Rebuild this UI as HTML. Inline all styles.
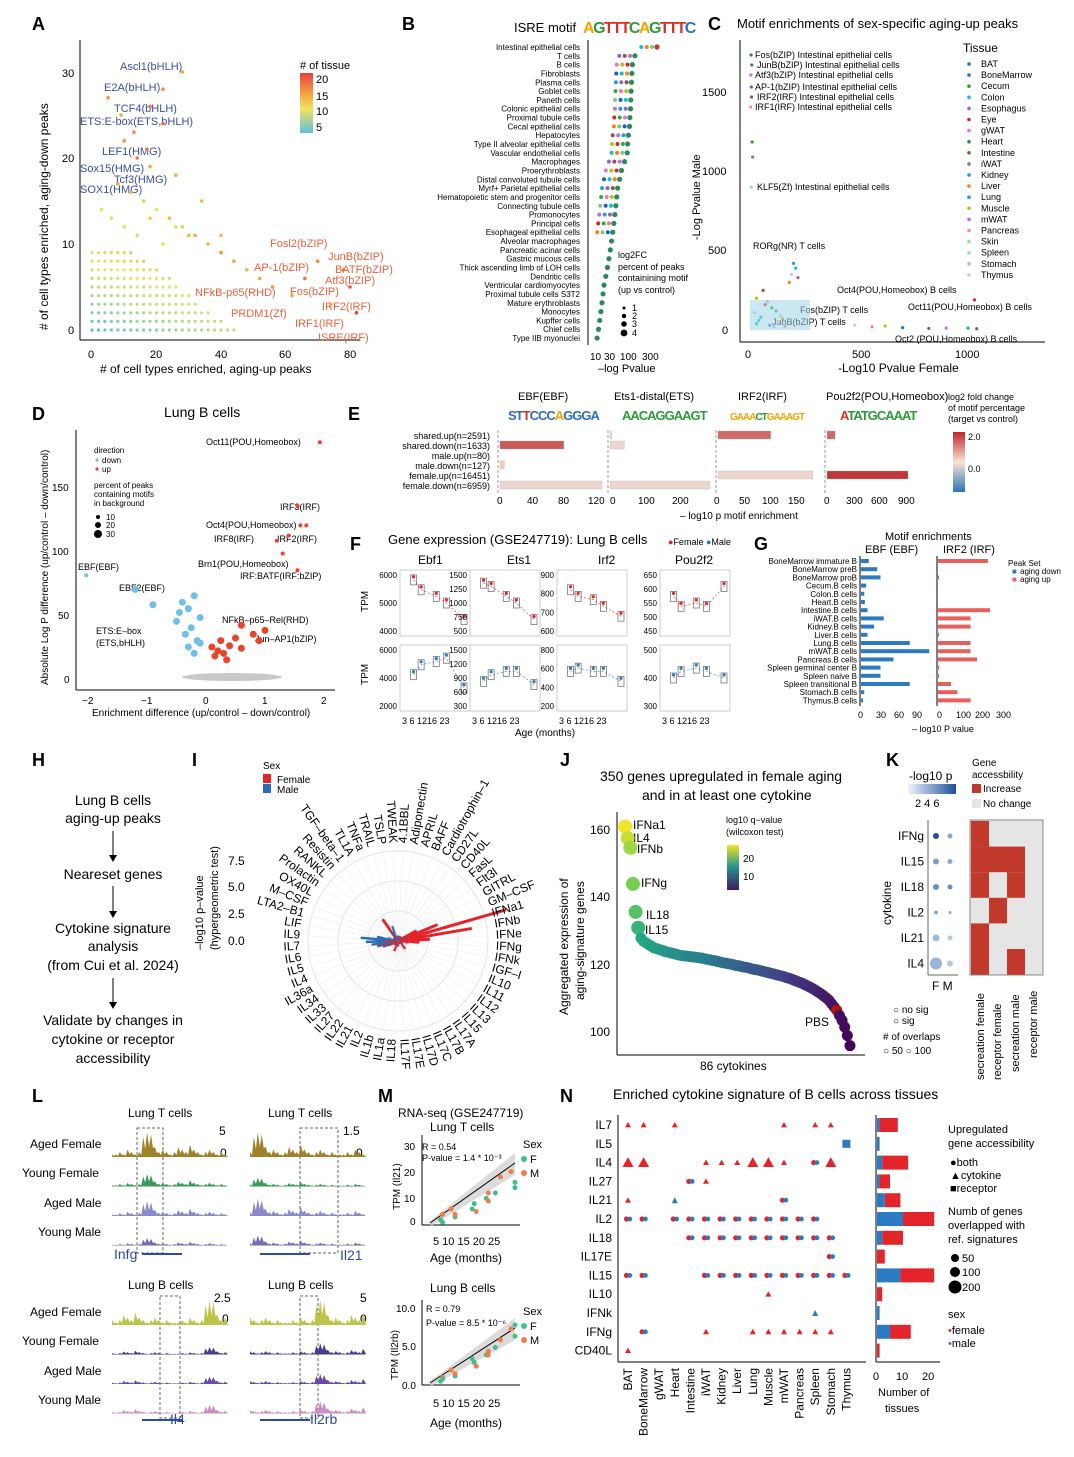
<!DOCTYPE html>
<html><head><meta charset="utf-8"><style>
html,body{margin:0;padding:0;background:#fff}
svg{display:block;font-family:"Liberation Sans",sans-serif}
.pl{font-size:18px;font-weight:bold}
.t9{font-size:9px}.t10{font-size:10px}.t11{font-size:11px}.t12{font-size:12px}.t13{font-size:13px}.t14{font-size:14px}.t8{font-size:8px}
</style></head><body>
<svg id="fig" width="1074" height="1457" viewBox="0 0 1074 1457">
<g>
<text class="pl" x="32" y="30">A</text><text class="pl" x="402" y="30">B</text><text class="pl" x="708" y="30">C</text>
<text class="pl" x="32" y="420">D</text><text class="pl" x="348" y="420">E</text><text class="pl" x="350" y="550">F</text>
<text class="pl" x="754" y="550">G</text><text class="pl" x="32" y="766">H</text><text class="pl" x="192" y="766">I</text>
<text class="pl" x="560" y="766">J</text><text class="pl" x="886" y="766">K</text><text class="pl" x="32" y="1102">L</text>
<text class="pl" x="378" y="1102">M</text><text class="pl" x="560" y="1102">N</text>
</g>
<g id="pA">
<line x1="80" y1="40" x2="80" y2="340" stroke="#000"/><line x1="80" y1="340" x2="360" y2="340" stroke="#000"/>
<text class="t11" x="88" y="358">0</text><text class="t11" x="150" y="358">20</text><text class="t11" x="215" y="358">40</text><text class="t11" x="279" y="358">60</text><text class="t11" x="344" y="358">80</text>
<text class="t11" x="68" y="334">0</text><text class="t11" x="62" y="248">10</text><text class="t11" x="62" y="162">20</text><text class="t11" x="62" y="77">30</text>
<text class="t12" x="100" y="373">    # of cell types enriched, aging-up peaks</text>
<text class="t12" transform="translate(48,330) rotate(-90)"># of cell types enriched, aging-down peaks</text>
<text class="t11" x="300" y="69"># of tissue</text>
<text class="t11" x="316" y="83">20</text><text class="t11" x="316" y="100">15</text><text class="t11" x="316" y="115">10</text><text class="t11" x="316" y="131">5</text>
<g fill="#3a4fa8" class="t11">
<text x="120" y="70">Ascl1(bHLH)</text><text x="104" y="91">E2A(bHLH)</text><text x="114" y="112">TCF4(bHLH)</text><text x="80" y="125">ETS:E-box(ETS,bHLH)</text>
<text x="102" y="155">LEF1(HMG)</text><text x="80" y="172">Sox15(HMG)</text><text x="114" y="183">Tcf3(HMG)</text><text x="80" y="193">SOX1(HMG)</text></g>
<g fill="#e8603c" class="t11">
<text x="270" y="247">Fosl2(bZIP)</text><text x="328" y="260">JunB(bZIP)</text><text x="254" y="271">AP-1(bZIP)</text><text x="335" y="273">BATF(bZIP)</text>
<text x="325" y="284">Atf3(bZIP)</text><text x="195" y="296">NFkB-p65(RHD)</text><text x="290" y="295">Fos(bZIP)</text><text x="322" y="310">IRF2(IRF)</text>
<text x="231" y="317">PRDM1(Zf)</text><text x="295" y="327">IRF1(IRF)</text><text x="318" y="341">ISRE(IRF)</text></g>
</g>
<g id="pB">
<text class="t13" x="514" y="32">ISRE motif</text>
<text x="583" y="33" font-size="16" font-weight="bold" letter-spacing="-1.5"><tspan fill="#f4a300">A</tspan><tspan fill="#2a9a3a">G</tspan><tspan fill="#d73027">TTT</tspan><tspan fill="#2a9a3a">C</tspan><tspan fill="#f4a300">A</tspan><tspan fill="#2a9a3a">G</tspan><tspan fill="#d73027">TTT</tspan><tspan fill="#2b6cc4">C</tspan></text>
<line x1="588" y1="40" x2="588" y2="345" stroke="#000"/>
<text class="t10" x="590" y="360">10</text><text class="t10" x="604" y="360">30</text><text class="t10" x="620" y="360">100</text><text class="t10" x="642" y="360">300</text>
<text class="t11" x="598" y="372">–log Pvalue</text>
<g class="t9"><text x="618" y="258">log2FC</text><text x="618" y="270">percent of peaks</text><text x="618" y="281">containining motif</text><text x="618" y="293">(up vs control)</text>
<text x="632" y="311">1</text><text x="632" y="319">2</text><text x="632" y="327">3</text><text x="632" y="336">4</text></g>
<circle cx="624" cy="308" r="1.5"/><circle cx="624" cy="316" r="2.2"/><circle cx="624" cy="324" r="2.8"/><circle cx="624" cy="333" r="3.4"/>
</g>
<g id="pC">
<text class="t13" x="737" y="28">Motif enrichments of sex-specific aging-up peaks</text>
<line x1="740" y1="40" x2="740" y2="342" stroke="#000"/><line x1="740" y1="342" x2="1045" y2="342" stroke="#000"/>
<text class="t11" x="745" y="358">0</text><text class="t11" x="852" y="358">500</text><text class="t11" x="955" y="358">1000</text>
<text class="t11" x="722" y="334">0</text><text class="t11" x="708" y="254">500</text><text class="t11" x="702" y="175">1000</text><text class="t11" x="702" y="96">1500</text>
<text class="t12" x="838" y="372">-Log10 Pvalue Female</text>
<text class="t11" transform="translate(700,240) rotate(-90)">-Log Pvalue Male</text>
<g class="t9"><text x="755" y="58">Fos(bZIP) Intestinal epithelial cells</text><text x="757" y="68">JunB(bZIP) Intestinal epithelial cells</text>
<text x="755" y="78">Atf3(bZIP) Intestinal epithelial cells</text><text x="755" y="90">AP-1(bZIP) Intestinal epithelial cells</text>
<text x="757" y="100">IRF2(IRF) Intestinal epithelial cells</text><text x="755" y="110">IRF1(IRF) Intestinal epithelial cells</text>
<text x="757" y="190">KLF5(Zf) Intestinal epithelial cells</text><text x="753" y="249">RORg(NR) T cells</text>
<text x="837" y="293">Oct4(POU,Homeobox) B cells</text><text x="908" y="310">Oct11(POU,Homeobox) B cells</text>
<text x="800" y="313">Fos(bZIP) T cells</text><text x="772" y="325">JunB(bZIP) T cells</text><text x="895" y="342">Oct2 (POU,Homeobox) B cells</text></g>
<text class="t12" x="963" y="52">Tissue</text>
<g id="cLegend"></g>
</g>
<g id="pD">
<text class="t14" x="164" y="417">Lung B cells</text>
<line x1="76" y1="430" x2="76" y2="690" stroke="#000"/><line x1="76" y1="690" x2="335" y2="690" stroke="#000"/>
<text class="t10" x="82" y="704">−2</text><text class="t10" x="141" y="704">−1</text><text class="t10" x="203" y="704">0</text><text class="t10" x="262" y="704">1</text><text class="t10" x="321" y="704">2</text>
<text class="t10" x="64" y="683">0</text><text class="t10" x="58" y="619">50</text><text class="t10" x="52" y="555">100</text><text class="t10" x="52" y="491">150</text>
<text class="t10" x="92" y="716">Enrichment difference (up/control – down/control)</text>
<text class="t10" transform="translate(48,685) rotate(-90)">Absolute Log P difference (up/control – down/control)</text>
<g class="t8"><text x="94" y="453">direction</text><text x="102" y="463">down</text><text x="102" y="472">up</text>
<text x="94" y="488">percent of peaks</text><text x="94" y="497">containing motifs</text><text x="94" y="506">in background</text>
<text x="106" y="520">10</text><text x="106" y="528">20</text><text x="106" y="537">30</text></g>
<circle cx="97" cy="460" r="1.6" fill="#6ec0e6"/><circle cx="97" cy="469" r="1.6" fill="#e8452c"/>
<circle cx="98" cy="517" r="2"/><circle cx="98" cy="525" r="3"/><circle cx="98" cy="534" r="4"/>
<g class="t9"><text x="206" y="445">Oct11(POU,Homeobox)</text><text x="280" y="510">IRF3(IRF)</text><text x="206" y="528">Oct4(POU,Homeobox)</text>
<text x="214" y="542">IRF8(IRF)</text><text x="277" y="542">IRF2(IRF)</text><text x="198" y="567">Brn1(POU,Homeobox)</text><text x="240" y="579">IRF:BATF(IRF:bZIP)</text>
<text x="78" y="570">EBF(EBF)</text><text x="119" y="591">EBF2(EBF)</text><text x="222" y="623">NFkB–p65–Rel(RHD)</text><text x="255" y="642">Jun–AP1(bZIP)</text>
<text x="96" y="634">ETS:E–box</text><text x="96" y="646">(ETS,bHLH)</text></g>
</g>
<g id="pE">
<g class="t11"><text x="518" y="400">EBF(EBF)</text><text x="614" y="400">Ets1-distal(ETS)</text><text x="738" y="400">IRF2(IRF)</text><text x="826" y="400">Pou2f2(POU,Homeobox)</text></g>
<g font-size="13" font-weight="bold" letter-spacing="-1"><text x="508" y="420" fill="#2b6cc4">ST<tspan fill="#d73027">T</tspan>CCC<tspan fill="#f4a300">A</tspan>GGGA</text>
<text x="622" y="420" fill="#2a9a3a">AACAGGAAGT</text><text x="730" y="420" fill="#f4a300" font-size="10">GAAA<tspan fill="#2a9a3a">CT</tspan>GAAAGT</text><text x="840" y="420" fill="#2a9a3a"><tspan fill="#d73027">A</tspan>TATGCAAAT</text></g>
<g class="t9"><text x="948" y="400">log2 fold change</text><text x="948" y="411">of motif percentage</text><text x="948" y="422">(target vs control)</text>
<text x="968" y="440">2.0</text><text x="968" y="472">0.0</text></g>
<defs><linearGradient id="gE" x1="0" y1="0" x2="0" y2="1"><stop offset="0" stop-color="#c0262b"/><stop offset="0.5" stop-color="#fbe3d5"/><stop offset="1" stop-color="#2b73b8"/></linearGradient>
<linearGradient id="gA" x1="0" y1="0" x2="0" y2="1"><stop offset="0" stop-color="#e8403c"/><stop offset="0.35" stop-color="#f5a542"/><stop offset="0.6" stop-color="#f0e264"/><stop offset="1" stop-color="#5cc0d8"/></linearGradient>
<linearGradient id="gJ" x1="0" y1="0" x2="0" y2="1"><stop offset="0" stop-color="#f0e52a"/><stop offset="0.5" stop-color="#23918c"/><stop offset="1" stop-color="#3f1a66"/></linearGradient>
<linearGradient id="gK" x1="0" y1="0" x2="1" y2="0"><stop offset="0" stop-color="#eef4fb"/><stop offset="1" stop-color="#1c4f9c"/></linearGradient></defs>
<rect x="953" y="432" width="12" height="60" fill="url(#gE)"/>
<rect x="300" y="73" width="13" height="60" fill="url(#gA)"/>
<g class="t9" text-anchor="end"><text x="490" y="439">shared.up(n=2591)</text><text x="490" y="449">shared.down(n=1633)</text><text x="490" y="459">male.up(n=80)</text>
<text x="490" y="469">male.down(n=127)</text><text x="490" y="479">female.up(n=16451)</text><text x="490" y="489">female.down(n=6959)</text></g>
<g class="t10"><text x="497" y="504">0</text><text x="527" y="504">40</text><text x="558" y="504">80</text><text x="588" y="504">120</text>
<text x="610" y="504">0</text><text x="638" y="504">100</text><text x="672" y="504">200</text>
<text x="714" y="504">0</text><text x="739" y="504">50</text><text x="762" y="504">100</text><text x="788" y="504">150</text>
<text x="824" y="504">0</text><text x="846" y="504">300</text><text x="871" y="504">600</text><text x="898" y="504">900</text>
<text x="680" y="519">– log10 p motif enrichment</text></g>
</g>
<g id="pF">
<text class="t13" x="388" y="544">Gene expression (GSE247719): Lung B cells</text>
<text class="t9" x="668" y="545"><tspan fill="#e3242b">●</tspan>Female <tspan fill="#2a7bc4">●</tspan>Male</text>
<g class="t12"><text x="418" y="564">Ebf1</text><text x="507" y="564">Ets1</text><text x="598" y="564">Irf2</text><text x="675" y="564">Pou2f2</text></g>
<text class="t10" transform="translate(368,612) rotate(-90)">TPM</text><text class="t10" transform="translate(368,685) rotate(-90)">TPM</text>
<text class="t10" x="515" y="736">Age (months)</text>
</g>
<g id="pG">
<text class="t11" x="885" y="540">Motif enrichments</text><text class="t11" x="865" y="553">EBF (EBF)</text><text class="t11" x="943" y="553">IRF2 (IRF)</text>
<g class="t8"><text x="1008" y="566">Peak Set</text><text x="1012" y="574" fill="#2a7bc4">■</text><text x="1020" y="574">aging down</text><text x="1012" y="582" fill="#e8605c">■</text><text x="1020" y="582">aging up</text></g>
<g class="t9"><text x="858" y="718">0</text><text x="876" y="718">30</text><text x="894" y="718">60</text><text x="912" y="718">90</text>
<text x="937" y="718">0</text><text x="956" y="718">100</text><text x="975" y="718">200</text><text x="996" y="718">300</text>
<text x="912" y="732">– log10 P value</text></g>
</g>
<g id="pH" class="t14" text-anchor="middle">
<text x="113" y="805">Lung B cells</text><text x="113" y="823">aging-up peaks</text>
<text x="113" y="879">Neareset genes</text>
<text x="113" y="933">Cytokine signature</text><text x="113" y="951">analysis</text><text x="113" y="970">(from Cui et al. 2024)</text>
<text x="113" y="1025">Validate by changes in</text><text x="113" y="1044">cytokine or receptor</text><text x="113" y="1063">accessibility</text>
<g stroke="#000" fill="none"><line x1="113" y1="831" x2="113" y2="858"/><line x1="113" y1="886" x2="113" y2="914"/><line x1="113" y1="978" x2="113" y2="1005"/></g>
<g fill="#000"><path d="M109,855 L113,862 L117,855Z"/><path d="M109,911 L113,918 L117,911Z"/><path d="M109,1002 L113,1009 L117,1002Z"/></g>
</g>
<g id="pI">
<text class="t10" x="263" y="769">Sex</text><rect x="263" y="774" width="8" height="9" fill="#e3242b"/><rect x="263" y="784" width="8" height="9" fill="#2a6cb8"/>
<text class="t10" x="277" y="783">Female</text><text class="t10" x="277" y="793">Male</text>
<text class="t12" x="228" y="865">7.5</text><text class="t12" x="228" y="891">5.0</text><text class="t12" x="228" y="918">2.5</text><text class="t12" x="228" y="945">0.0</text>
<text class="t11" transform="translate(203,950) rotate(-90)">–log10 p–value</text><text class="t11" transform="translate(218,950) rotate(-90)">(hypergeometric test)</text>
</g>
<g id="pJ">
<text class="t14" x="600" y="781">350 genes upregulated in female aging</text><text class="t14" x="642" y="800">and in at least one cytokine</text>
<line x1="617" y1="812" x2="617" y2="1055" stroke="#000"/><line x1="617" y1="1055" x2="865" y2="1055" stroke="#000"/>
<text class="t12" x="590" y="834">160</text><text class="t12" x="590" y="901">140</text><text class="t12" x="590" y="969">120</text><text class="t12" x="590" y="1036">100</text>
<text class="t12" transform="translate(568,1015) rotate(-90)">Aggregated expression of</text><text class="t12" transform="translate(584,1000) rotate(-90)">aging-signature genes</text>
<text class="t12" x="700" y="1070">86 cytokines</text>
<text class="t9" x="726" y="823">log10 q−value</text><text class="t9" x="726" y="835">(wilcoxon test)</text>
<rect x="727" y="845" width="12" height="45" fill="url(#gJ)"/><text class="t10" x="743" y="862">20</text><text class="t10" x="743" y="880">10</text>
<g class="t12"><text x="633" y="829">IFNa1</text><text x="633" y="842">IL4</text><text x="637" y="853">IFNb</text><text x="641" y="887">IFNg</text><text x="646" y="919">IL18</text><text x="645" y="934">IL15</text><text x="805" y="1026">PBS</text></g>
</g>
<g id="pK">
<text class="t12" x="909" y="780">-log10 p</text><rect x="908" y="784" width="48" height="10" fill="url(#gK)"/>
<text class="t11" x="915" y="807">2  4  6</text>
<text class="t10" x="972" y="766">Gene</text><text class="t10" x="972" y="778">accessbility</text>
<rect x="972" y="784" width="9" height="9" fill="#c1392b"/><text class="t10" x="983" y="792">Increase</text>
<rect x="972" y="799" width="9" height="9" fill="#e5e5e5"/><text class="t10" x="983" y="807">No change</text>
<line x1="928" y1="820" x2="928" y2="975" stroke="#666"/><line x1="928" y1="975" x2="958" y2="975" stroke="#666"/>
<text class="t12" x="932" y="990">F M</text>
<text class="t12" transform="translate(891,925) rotate(-90)">cytokine</text>
<g class="t10"><text x="893" y="1013">○ no sig</text><text x="893" y="1024">○ sig</text><text x="883" y="1040"># of overlaps</text><text x="883" y="1054">○ 50  ○ 100</text></g>
<rect x="970" y="820" width="73" height="155" fill="#e5e5e5" stroke="#888"/>
<g class="t11"><text transform="translate(984,1080) rotate(-90)">secreation female</text><text transform="translate(1001,1080) rotate(-90)">receptor female</text>
<text transform="translate(1019,1072) rotate(-90)">secreation male</text><text transform="translate(1037,1058) rotate(-90)">receptor male</text></g>
</g>
<g id="pL">
<g class="t12"><text x="128" y="1117">Lung T cells</text><text x="268" y="1117">Lung T cells</text><text x="128" y="1289">Lung B cells</text><text x="268" y="1289">Lung B cells</text>
<text x="30" y="1148">Aged Female</text><text x="22" y="1177">Young Female</text><text x="44" y="1207">Aged Male</text><text x="38" y="1236">Young Male</text>
<text x="30" y="1316">Aged Female</text><text x="22" y="1345">Young Female</text><text x="44" y="1375">Aged Male</text><text x="38" y="1404">Young Male</text>
<text x="219" y="1135">5</text><text x="220" y="1157">0</text><text x="343" y="1135">1.5</text><text x="356" y="1157">0</text>
<text x="214" y="1302">2.5</text><text x="222" y="1323">0</text><text x="360" y="1302">5</text><text x="360" y="1323">0</text></g>
<g class="t14" fill="#2b4aa8"><text x="114" y="1259">Infg</text><text x="340" y="1260">Il21</text><text x="170" y="1424">Il4</text><text x="310" y="1424">Il2rb</text></g>
<g fill="none" stroke="#666" stroke-dasharray="3,2"><rect x="137" y="1128" width="26" height="125"/><rect x="300" y="1128" width="38" height="125"/><rect x="160" y="1296" width="20" height="122"/><rect x="300" y="1296" width="18" height="122"/></g>
</g>
<g id="pM">
<text class="t12" x="398" y="1117">RNA-seq (GSE247719)</text><text class="t12" x="430" y="1131">Lung T cells</text><text class="t12" x="430" y="1292">Lung B cells</text>
<text class="t10" x="404" y="1150">30</text><text class="t10" x="404" y="1176">20</text><text class="t10" x="404" y="1202">10</text><text class="t10" x="410" y="1225">0</text>
<text class="t10" x="396" y="1312">10.0</text><text class="t10" x="402" y="1350">5.0</text><text class="t10" x="402" y="1389">0.0</text>
<text class="t9" x="422" y="1150">R = 0.54</text><text class="t9" x="422" y="1161">P-value = 1.4 * 10⁻³</text>
<text class="t9" x="426" y="1312">R = 0.79</text><text class="t9" x="426" y="1326">P-value = 8.5 * 10⁻⁶</text>
<text class="t11" x="433" y="1245">5  10  15  20  25</text><text class="t11" x="433" y="1407">5  10  15  20  25</text>
<text class="t12" x="430" y="1262">Age (months)</text><text class="t12" x="430" y="1427">Age (months)</text>
<text class="t10" transform="translate(400,1210) rotate(-90)">TPM (Il21)</text><text class="t10" transform="translate(398,1380) rotate(-90)">TPM (Il2rb)</text>
<g class="t11"><text x="523" y="1148">Sex</text><text x="530" y="1163">F</text><text x="530" y="1177">M</text><text x="523" y="1315">Sex</text><text x="530" y="1330">F</text><text x="530" y="1344">M</text></g>
<circle cx="524" cy="1159" r="3" fill="#3fbf8c"/><circle cx="524" cy="1173" r="3" fill="#f07c4a"/><circle cx="524" cy="1326" r="3" fill="#3fbf8c"/><circle cx="524" cy="1340" r="3" fill="#f07c4a"/>
</g>
<g id="pN">
<text class="t14" x="613" y="1099">Enriched cytokine signature of B cells across tissues</text>
<line x1="618" y1="1115" x2="618" y2="1362" stroke="#000"/><line x1="618" y1="1362" x2="866" y2="1362" stroke="#000"/>
<line x1="876" y1="1115" x2="876" y2="1362" stroke="#000"/><line x1="876" y1="1362" x2="940" y2="1362" stroke="#000"/>
<g class="t11"><text x="873" y="1380">0</text><text x="896" y="1380">10</text><text x="922" y="1380">20</text><text x="878" y="1396">Number of</text><text x="885" y="1412">tissues</text>
<text x="948" y="1133">Upregulated</text><text x="948" y="1147">gene accessibility</text><text x="950" y="1166">●both</text><text x="950" y="1179">▲cytokine</text><text x="950" y="1192">■receptor</text>
<text x="948" y="1215">Numb of genes</text><text x="948" y="1229">overlapped with</text><text x="948" y="1243">ref. signatures</text>
<text x="962" y="1262">50</text><text x="962" y="1276">100</text><text x="962" y="1291">200</text><text x="948" y="1318">sex</text>
<text x="948" y="1334"><tspan fill="#e3242b">•</tspan>female</text><text x="948" y="1347"><tspan fill="#2a7bc4">•</tspan>male</text></g>
<circle cx="955" cy="1258" r="4"/><circle cx="955" cy="1272" r="5"/><circle cx="955" cy="1287" r="6.5"/>
</g>
</svg>
<script>
const NS='http://www.w3.org/2000/svg';
const svg=document.getElementById('fig');
function mk(tag,a,p){const e=document.createElementNS(NS,tag);for(const k in a)e.setAttribute(k,a[k]);(p||svg).appendChild(e);return e;}
function lerpC(c1,c2,t){const a=parseInt(c1.slice(1),16),b=parseInt(c2.slice(1),16);const r=Math.round(((a>>16)&255)*(1-t)+((b>>16)&255)*t),g=Math.round(((a>>8)&255)*(1-t)+((b>>8)&255)*t),bl=Math.round((a&255)*(1-t)+(b&255)*t);return 'rgb('+r+','+g+','+bl+')';}
function ramp(stops,t){t=Math.max(0,Math.min(1,t));const n=stops.length-1;const i=Math.min(n-1,Math.floor(t*n));return lerpC(stops[i],stops[i+1],t*n-i);}

/* ---------- Panel A data ---------- */
const aRowLevels=[0,1,2,3,4,5,6,7,8,9];
const aRowMaxX=[44,40,36,33,30,27,24,20,16,12];
const aPtX=[3,6,10,14,18,22,26,30,8,12,16,20,24,28,32,36,40,44,48,52,56,62,66,70,74,78,80,82,10,14,18,22,5,9,13,17,26,34,28,22,18,40];
const aPtY=[14,13,12,11,13,10,12,11,17,16,15,14,13,12,11,10,9,8,7,6,5,4,6,8,3,7,5,2,22,20,19,24,27,25,23,21,18,15,30,28,26,11];
const aPtT=[12,13,12,11,14,13,12,15,16,15,14,13,15,14,16,15,17,16,15,16,17,16,18,17,16,18,19,20,17,18,16,18,17,16,17,18,16,15,16,17,18,15];
const ax=v=>92+v*3.225, ay=v=>330-v*8.6;
const tissueStops=['#5cc0d8','#a8dc8a','#f0e264','#f5a542','#e8403c'];
const gA=document.getElementById('pA');
aRowLevels.forEach((y,i)=>{for(let x=0;x<=aRowMaxX[i];x+=2){
  const c=mk('circle',{cx:ax(x),cy:ay(y),r:1.6,fill:ramp(tissueStops,(y*0.06+x*0.008))},gA);
  
  }});
aPtX.forEach((x,i)=>{const c=mk('circle',{cx:ax(x),cy:ay(aPtY[i]),r:1.8,fill:ramp(tissueStops,(aPtT[i]-5)/15)},gA);
  
  });

/* ---------- Panel B data ---------- */
const bCells=['Intestinal epithelial cells','T cells','B cells','Fibroblasts','Plasma cells','Goblet cells','Paneth cells','Colonic epithelial cells','Proximal tubule cells','Cecal epithelial cells','Hepatocytes','Type II alveolar epithelial cells','Vascular endothelial cells','Macrophages','Proerythroblasts','Distal convoluted tubule cells','Myrf+ Parietal epithelial cells','Hematopoietic stem and progenitor cells','Connecting tubule cells','Promonocytes','Principal cells','Esophageal epithelial cells','Alveolar macrophages','Pancreatic acinar cells','Gastric mucous cells','Thick ascending limb of LOH cells','Dendritic cells','Ventricular cardiomyocytes','Proximal tubule cells S3T2','Mature erythroblasts','Monocytes','Kupffer cells','Chief cells','Type IIB myonuclei'];
const bMax=[400,110,95,92,90,88,86,85,82,80,75,72,70,60,50,45,40,38,36,34,32,30,28,26,24,22,20,18,17,16,15,14,13,12];
const tColors=['#1f5fbf','#2a9dd8','#3aaa3a','#7fc97f','#c86ad8','#d62728','#ff7f0e','#8c564b','#bcbd22','#17becf','#9467bd','#e377c2'];
const gB=document.getElementById('pB');
const bx=v=>594+(Math.log10(v)-1)*39.3;
bCells.forEach((n,i)=>{const y=47+i*8.82;
  const t=mk('text',{x:580,y:y+3,'text-anchor':'end','font-size':8},gB);t.textContent=n;
  
  
  [1,0.75,0.55,0.4].forEach((f,k)=>{const v=bMax[i]*f;if(v<11||(k>0&&bMax[i]<30))return;
    const c=mk('circle',{cx:bx(v),cy:y,r:k==0?2.6:2,fill:k==0?(i==0?'#c0392b':'#2a8a5a'):tColors[(i+k*3)%12]},gB);
    
    });});

/* ---------- Panel C data ---------- */
const cTissues=['BAT','BoneMarrow','Cecum','Colon','Esophagus','Eye','gWAT','Heart','Intestine','iWAT','Kidney','Liver','Lung','Muscle','mWAT','Pancreas','Skin','Spleen','Stomach','Thymus'];
const cTissueCol=['#1f77b4','#3a6fd8','#2ca02c','#17becf','#9467bd','#d62728','#e377c2','#3a8a3a','#8c564b','#7f7f7f','#1f9fbf','#ff7f0e','#2ca0d0','#bcbd22','#c86ad8','#e7969c','#98df8a','#9edae5','#c5b0d5','#f7b6d2'];
const cFemale=[5,8,4,6,7,3,10,12,6,210,200,190,220,180,665,1030,1000,480,560,620,700,820,900,1040,60,80,100,120,140,40,30,20,90,150,110,70,50,130,160,30];
const cMale=[1733,1670,1607,1531,1468,1405,1185,1090,900,390,420,350,330,300,250,190,12,30,20,25,15,10,12,8,250,180,140,120,90,60,40,110,30,70,20,160,80,50,25,200];
const cx=v=>750+v*0.218, cy=v=>330-v*0.1587;
const gC=document.getElementById('pC');
cFemale.forEach((v,i)=>{const c=mk('circle',{cx:cx(v),cy:cy(cMale[i]),r:1.6,fill:cTissueCol[(i*7)%20]},gC);
  
  });
const cCloud=mk('rect',{x:750,y:300,width:60,height:30,fill:'#9fd6e8',opacity:0.55},gC);


const cLeg=document.getElementById('cLegend');
cTissues.forEach((n,i)=>{const y=67+i*11.1;
  const c=mk('circle',{cx:969,cy:y-3,r:1.8,fill:cTissueCol[i]},cLeg);
  
  
  const t=mk('text',{x:981,y:y,'font-size':9},cLeg);t.textContent=n;
  
  });

/* ---------- Panel D data ---------- */
const dX=[1.93,1.55,1.7,1.6,1.2,1.4,1.3,1.55,-2.03,-1.2,-0.9,0.6,1.0,-0.2,-0.3,-0.4,-0.1,-0.5,-0.25,-0.35,-0.15,-0.45,-0.3,-0.2,-0.1,0.1,0.2,0.15,0.25,0.3,0.4,0.35,0.6,0.5,0.8,0.9];
const dY=[185,135,120,120,108,112,98,85,81,70,58,42,38,65,55,60,48,45,40,35,30,52,25,20,28,25,22,18,30,20,26,15,24,32,35,30];
const dDir=[1,1,1,1,1,1,1,1,0,0,0,1,1,0,0,0,0,0,0,0,0,0,0,0,0,1,1,1,1,1,1,1,1,1,1,1];
const dxs=v=>206+v*59, dys=v=>679-v*1.28;
const gD=document.getElementById('pD');
const dGrey=mk('ellipse',{cx:232,cy:677,rx:50,ry:4,fill:'#c8c8c8'},gD);


dX.forEach((v,i)=>{const c=mk('circle',{cx:dxs(v),cy:dys(dY[i]),r:i<9?2:3.5,fill:dDir[i]?'#e8452c':'#6ec0e6'},gD);
  
  });

/* ---------- Panel E data ---------- */
const eRows=['shared.up','shared.down','male.up','male.down','female.up','female.down'];
const eEBF=[0,75,0,5,0,120];
const eETS=[5,40,0,0,0,280];
const eIRF=[100,0,0,0,180,0];
const ePOU=[90,0,0,0,900,0];
const eFC=[[0,1.7,0,0.5,0,0.3],[0.1,0.3,0,0,0,0.3],[1.6,0,0,0,0.3,0],[1.6,0,0,0,1.9,0]];
const ePanels=[{x0:500,s:102/120,d:eEBF},{x0:610,s:100/280,d:eETS},{x0:718,s:79/150,d:eIRF},{x0:827,s:81/900,d:ePOU}];
const gE=document.getElementById('pE');
ePanels.forEach((p,pi)=>{const ax1=mk('line',{x1:p.x0-2,y1:430,x2:p.x0-2,y2:493,stroke:'#999','stroke-dasharray':'3,2'},gE);
  
  
  p.d.forEach((v,i)=>{if(!v)return;const fc=eFC[pi][i];
    const r=mk('rect',{x:p.x0,y:431+i*10,width:v*p.s,height:8,fill:fc>1?lerpC('#f6d3c0','#b8262b',(fc-1)/1):lerpC('#dce6f0','#f6cdb8',fc*2),stroke:'#aaa','stroke-width':0.3},gE);
    
    });});

/* ---------- Panel F data ---------- */
const fGenes=['Ebf1','Ets1','Irf2','Pou2f2'];
const fAges=[3,6,12,16,23];
const fFemaleMed=[[0.85,0.7,0.6,0.5,0.25],[0.8,0.75,0.6,0.5,0.25],[0.7,0.6,0.55,0.45,0.3],[0.6,0.45,0.5,0.45,0.75]];
const fMaleMed=[[0.55,0.7,0.75,0.8,0.35],[0.45,0.55,0.6,0.6,0.4],[0.6,0.65,0.6,0.6,0.45],[0.5,0.6,0.65,0.6,0.5]];
const fPanelX=[400,470,557,660];
const fTicksTop=[['6000','5000','4000'],['1500','1250','1000','750','500'],['900','800','700','600'],['650','600','550','500','450']];
const fTicksBot=[['6000','4000','2000'],['1500','1200','900','600','300'],['800','600','400','200'],['500','400','300']];
const gF=document.getElementById('pF');
const fxa=(px,a)=>px+6+(a/23)*58;
fGenes.forEach((g,gi)=>{const px=fPanelX[gi];
  [[570,fFemaleMed[gi],'#e3242b',fTicksTop[gi]],[645,fMaleMed[gi],'#2a7bc4',fTicksBot[gi]]].forEach(([y0,meds,col,ticks])=>{
    const fr=mk('rect',{x:px,y:y0,width:70,height:66,fill:'none',stroke:'#ccc'},gF);
    
    
    ticks.forEach((t,k)=>{const tt=mk('text',{x:px-3,y:y0+8+k*(56/(ticks.length-1)),'text-anchor':'end','font-size':8},gF);tt.textContent=t;
      
      });
    let pts=[];
    meds.forEach((m,k)=>{const x=fxa(px,fAges[k]),y=y0+66-m*66;pts.push(x+','+y);
      const b=mk('rect',{x:x-3,y:y-5,width:6,height:10,fill:'#fff',stroke:'#666','stroke-width':0.7},gF);
      
      
      const d=mk('circle',{cx:x,cy:y-3,r:1.6,fill:col},gF);
      
      });
    const l=mk('polyline',{points:pts.join(' '),fill:'none',stroke:col,'stroke-width':0.6,'stroke-dasharray':'2,2'},gF);
    
    });
  const al=mk('text',{x:px+2,y:724,'font-size':9},gF);al.textContent='3 6  1216  23';
  
  });

/* ---------- Panel G data ---------- */
const gCells=['BoneMarrow immature B','BoneMarrow preB','BoneMarrow proB','Cecum.B cells','Colon.B cells','Heart.B cells','Intestine.B cells','iWAT.B cells','Kidney.B cells','Liver.B cells','Lung.B cells','mWAT.B cells','Pancreas.B cells','Spleen germinal center B','Spleen naive B','Spleen transitional B','Stomach.B cells','Thymus.B cells'];
const gEBF=[12,25,30,8,5,6,10,35,20,10,75,105,50,30,30,75,5,3];
const gIRF=[230,0,5,0,0,0,240,150,150,5,150,150,180,5,5,60,90,150];
const gG=document.getElementById('pG');
[860,937].forEach(x=>{const l=mk('line',{x1:x,y1:556,x2:x,y2:706,stroke:'#000'},gG);
  
  });
gCells.forEach((n,i)=>{const y=561+i*8.2;
  const t=mk('text',{x:857,y:y+3,'text-anchor':'end','font-size':8},gG);t.textContent=n;
  
  
  const b1=mk('rect',{x:861,y:y-2,width:gEBF[i]*0.65,height:4,fill:'#2a7bc4'},gG);
  
  
  const b2=mk('rect',{x:938,y:y-2,width:gIRF[i]*0.217,height:4,fill:'#e8605c'},gG);
  
  });

/* ---------- Panel I data ---------- */
const iCyt=['4.1BBL','Adiponectin','APRIL','BAFF','Cardiotrophin–1','CD27L','CD40L','FasL','Flt3l','GITRL','GM–CSF','IFNa1','IFNb','IFNe','IFNg','IFNk','IGF–I','IL10','IL11','IL12','IL13','IL15','IL17A','IL17B','IL17C','IL17D','IL17E','IL17F','IL18','IL1a','IL1b','IL2','IL21','IL22','IL27','IL33','IL34','IL36a','IL4','IL5','IL6','IL7','IL9','LIF','LTA2–B1','M–CSF','OX40L','Prolactin','RANKL','Resistin','TGF–beta–1','TL1A','TNFa','TRAIL','TSLP','TWEAK'];
const iFemale=[0.5,0.3,0.3,0.3,0.5,0.3,0.5,0.3,0.5,2,4,10.5,7,3,2,1,0.5,0.5,0.3,0.3,0.5,1,0.3,0.3,0.3,0.3,0.3,0.3,0.5,0.3,0.3,1,0.5,0.3,0.5,0.3,0.5,0.3,1,1.5,2,1.5,1.5,1,0.5,0.5,0.5,0.3,0.5,0.5,2.5,0.5,1,0.5,0.5,0.5];
const iMale=[0.3,0.3,0.3,0.3,0.3,0.3,0.3,0.3,0.3,0.3,0.5,1,0.5,0.5,0.5,0.3,0.3,0.3,0.3,0.3,0.3,0.5,0.3,0.3,0.3,0.3,0.3,0.3,0.5,0.3,0.3,0.5,0.3,0.3,0.3,0.3,0.5,0.3,1.5,2,2.5,3,3.5,2,1,0.5,0.5,0.3,0.5,0.5,1,0.5,1.5,0.5,0.5,0.5];
const gI=document.getElementById('pI');
const icx=398, icy=941, iR=10.7;
[30,60,90].forEach(r=>{const c=mk('circle',{cx:icx,cy:icy,r:r,fill:'none',stroke:'#e4e4e4'},gI);
  
  });
iCyt.forEach((n,i)=>{const deg=-90+3.2+i*360/56, a=deg*Math.PI/180;
  const sp=mk('line',{x1:icx,y1:icy,x2:icx+92*Math.cos(a),y2:icy+92*Math.sin(a),stroke:'#eee','stroke-width':0.6},gI);
  
  
  const b1=mk('line',{x1:icx,y1:icy,x2:icx+iFemale[i]*iR*Math.cos(a),y2:icy+iFemale[i]*iR*Math.sin(a),stroke:'#e3242b','stroke-width':3},gI);
  
  
  const b2=mk('line',{x1:icx,y1:icy,x2:icx+iMale[i]*iR*Math.cos(a+0.03),y2:icy+iMale[i]*iR*Math.sin(a+0.03),stroke:'#2a6cb8','stroke-width':2.5},gI);
  
  
  const lx=icx+98*Math.cos(a), ly=icy+98*Math.sin(a);
  const right=Math.cos(a)>=0;
  const t=mk('text',{x:lx,y:ly,'font-size':12,'text-anchor':right?'start':'end','dominant-baseline':'middle',transform:'rotate('+(right?deg:deg+180)+' '+lx+' '+ly+')'},gI);t.textContent=n;
  
  });

/* ---------- Panel J data ---------- */
const jVals=[161,157.6,154.7,144,135.7,131,128,127,126.5,126,125.5,125,124.8,124.5,124.3,124,123.8,123.6,123.4,123.2,123,122.8,122.7,122.6,122.5,122.4,122.3,122.2,122.1,122,121.8,121.6,121.5,121.3,121.2,121,120.8,120.6,120.5,120.3,120.2,120,119.8,119.7,119.5,119.3,119.2,119,118.8,118.6,118.5,118.3,118.1,117.9,117.7,117.5,117.3,117.1,116.9,116.7,116.5,116.2,116,115.7,115.4,115.1,114.8,114.5,114.1,113.7,113.3,112.9,112.4,111.9,111.4,110.8,110.2,109.5,108.5,107.5,106.5,105,103.5,101.5,99,96];
const jPBS=80;
const gJ=document.getElementById('pJ');
const jx=i=>625+i*(225/85);
const viridis=['#f0e52a','#7ad151','#22a884','#2a788e','#414487','#440154'];
jVals.forEach((v,i)=>{const c=mk('circle',{cx:jx(i),cy:830+(160-v)*3.37,r:i<6?7:5.5,fill:i===jPBS?'#b01515':ramp(viridis,i<6?i*0.07:0.35+i*0.0075)},gJ);
  
  });

/* ---------- Panel K data ---------- */
const kCyt=['IFNg','IL15','IL18','IL2','IL21','IL4'];
const kF=[6,3,3.5,2.5,1.8,2];
const kM=[2.5,2.5,3.5,2.5,1.2,1.2];
const kFSize=[3,3,3,2,3.5,6];
const kMSize=[2.5,2.5,2.5,1.5,2.5,3];
const kHeat=[[1,0,0,0],[1,1,1,0],[1,0,1,0],[0,1,0,0],[1,0,0,0],[1,0,1,0]];
const gK=document.getElementById('pK');
kCyt.forEach((n,i)=>{const y=836+i*25.5;
  const t=mk('text',{x:924,y:y+4,'text-anchor':'end','font-size':12},gK);t.textContent=n;
  
  
  const d1=mk('circle',{cx:936,cy:y,r:kFSize[i],fill:lerpC('#dbe8f5','#1c4f9c',kF[i]/6)},gK);
  
  
  const d2=mk('circle',{cx:950,cy:y,r:kMSize[i],fill:lerpC('#dbe8f5','#1c4f9c',kM[i]/6)},gK);
  
  
  kHeat[i].forEach((v,j)=>{if(!v)return;const r=mk('rect',{x:971+j*18,y:821+i*25.6,width:18,height:25.6,fill:'#c1392b'},gK);
    
    });});

/* ---------- Panel L data ---------- */
const lProfile=[1,1,2,1,3,2,1,2,8,10,9,4,2,3,2,1,2,4,3,2,5,3,2,1,2,3,2,1,2,1];
const lTrackScale=[[1,0.5,0.6,0.3],[1,0.35,0.7,0.4],[1,0.3,0.3,0.35],[1,0.45,0.4,0.5]];
const lColors=[['#a0822a','#3a9a5a','#8a8ac8','#7a6ab0'],['#a0822a','#3a9a5a','#8a8ac8','#7a6ab0'],['#bcc54a','#4a3a8a','#6a4aa0','#c890c0'],['#bcc54a','#4a3a8a','#6a4aa0','#c890c0']];
const lBlocks=[[112,1130],[250,1130],[112,1298],[250,1298]];
const gL=document.getElementById('pL');
lBlocks.forEach(([x0,y0],bi)=>{[0,1,2,3].forEach(tk=>{const base=y0+27+tk*29.5;
  let d='M'+x0+','+base;
  lProfile.forEach((h,k)=>{const v=lProfile[(k+bi*7)%lProfile.length];d+=' L'+(x0+k*3.9)+','+(base-v*2.5*lTrackScale[bi][tk])+' L'+(x0+k*3.9+2)+','+(base-v*2.5*lTrackScale[bi][tk]*0.4);});
  d+=' L'+(x0+116)+','+base+'Z';
  const p=mk('path',{d:d,fill:lColors[bi][tk]},gL);
  
  });
  const g=mk('line',{x1:x0+(bi%2?10:30),y1:y0+(bi<2?124:122),x2:x0+(bi%2?60:70),y2:y0+(bi<2?124:122),stroke:'#2b4aa8','stroke-width':2},gL);
  
  });

/* ---------- Panel M data ---------- */
const mAgeT=[3,3,6,6,12,12,16,16,23,23,3,6,12,16,23,20,18];
const mTPMT=[2,4,3,6,8,5,10,12,16,20,1,4,6,9,14,18,12];
const mAgeB=[3,3,6,6,12,12,16,16,23,23,3,6,12,16,23,20,18];
const mTPMB=[0.5,1,1.2,2,3,2.5,4,4.5,6.5,7.5,0.8,1.5,3.5,4,8,6,5];
const gM=document.getElementById('pM');
[[1135,1225,mAgeT,mTPMT,30],[1300,1385,mAgeB,mTPMB,10]].forEach(([yt,yb,ag,tp,mx])=>{
  const ax1=mk('line',{x1:422,y1:yt,x2:422,y2:yb,stroke:'#000'},gM);
  
  
  const ax2=mk('line',{x1:422,y1:yb,x2:520,y2:yb,stroke:'#000'},gM);
  
  
  const band=mk('polygon',{points:'430,'+(yb-4)+' 515,'+(yt+18)+' 515,'+(yt+40)+' 430,'+(yb+2),fill:'#ccc',opacity:0.7},gM);
  
  
  const fit=mk('line',{x1:430,y1:yb-2,x2:515,y2:yt+28,stroke:'#000'},gM);
  
  
  ag.forEach((a,i)=>{const c=mk('circle',{cx:430+(a/25)*88+(i%3)*2,cy:yb-(tp[i]/mx)*(yb-yt-10),r:2.5,fill:i%2?'#f07c4a':'#3fbf8c'},gM);
    
    });});

/* ---------- Panel N data ---------- */
const nCyt=['IL7','IL5','IL4','IL27','IL21','IL2','IL18','IL17E','IL15','IL10','IFNk','IFNg','CD40L'];
const nTissues=['BAT','BoneMarrow','gWAT','Heart','Intestine','iWAT','Kidney','Liver','Lung','Muscle','mWAT','Pancreas','Spleen','Stomach','Thymus'];
const nMarkRow=[0,0,0,0,0,0,1,2,2,2,2,2,2,2,2,2,2,3,3,4,4,4,5,5,5,5,5,5,5,5,5,5,5,5,6,6,6,6,6,6,6,6,6,6,7,8,8,8,8,8,8,8,8,8,8,8,8,9,10,11,11,11,11,11,11,11,11,12];
const nMarkCol=[0,1,3,10,12,13,14,0,1,5,6,7,8,9,10,12,13,4,5,0,3,10,0,1,3,4,5,6,7,8,9,10,11,12,4,5,6,7,8,9,10,11,12,13,13,0,1,5,6,7,8,9,10,11,12,13,14,9,12,1,5,8,9,10,11,12,13,0];
const nMarkType=['t','t','t','t','t','t','s','T','T','t','t','t','T','T','t','d','T','d','t','t','b','d','d','d','d','d','d','d','d','d','d','d','d','d','d','d','d','d','d','d','d','d','d','d','d','d','d','d','d','d','d','d','d','d','d','d','d','t','b','d','t','t','t','t','t','t','t','t'];
const nFemaleCount=[7,0,10,4,6,12,8,3,13,2,0,8,1];
const nMaleCount=[1,1,2,1,3,10,2,0,9,0,1,5,0];
const gN=document.getElementById('pN');
const nx=j=>628+j*15.6, ny=i=>1125+i*18.8;
nCyt.forEach((n,i)=>{const t=mk('text',{x:612,y:ny(i)+4,'text-anchor':'end','font-size':12},gN);t.textContent=n;
  
  
  const bm=mk('rect',{x:877,y:ny(i)-7,width:nMaleCount[i]*2.6,height:14,fill:'#2a7bc4'},gN);
  
  
  const bf=mk('rect',{x:877+nMaleCount[i]*2.6,y:ny(i)-7,width:nFemaleCount[i]*2.6,height:14,fill:'#e3242b'},gN);
  
  });
nTissues.forEach((n,j)=>{const x=nx(j)+4;const t=mk('text',{x:x,y:1368,'text-anchor':'end','font-size':12,transform:'rotate(-90 '+x+' 1368)'},gN);t.textContent=n;
  
  });
nMarkRow.forEach((r,k)=>{const x=nx(nMarkCol[k]),y=ny(r),tp=nMarkType[k];let e;
  if(tp==='d'){e=mk('circle',{cx:x-1.5,cy:y,r:2.6,fill:'#e3242b'},gN);
    const e2=mk('circle',{cx:x+1.8,cy:y,r:2.4,fill:'#2a7bc4'},gN);
    
    }
  else if(tp==='s'){e=mk('rect',{x:x-4,y:y-4,width:8,height:8,fill:'#2a7bc4'},gN);}
  else if(tp==='b'){e=mk('path',{d:'M'+(x-3)+','+(y+3)+' L'+x+','+(y-3)+' L'+(x+3)+','+(y+3)+'Z',fill:'#2a7bc4'},gN);}
  else{const s=tp==='T'?5.5:3;e=mk('path',{d:'M'+(x-s)+','+(y+s*0.8)+' L'+x+','+(y-s)+' L'+(x+s)+','+(y+s*0.8)+'Z',fill:'#e3242b'},gN);}
  
  });
</script>
</body></html>
